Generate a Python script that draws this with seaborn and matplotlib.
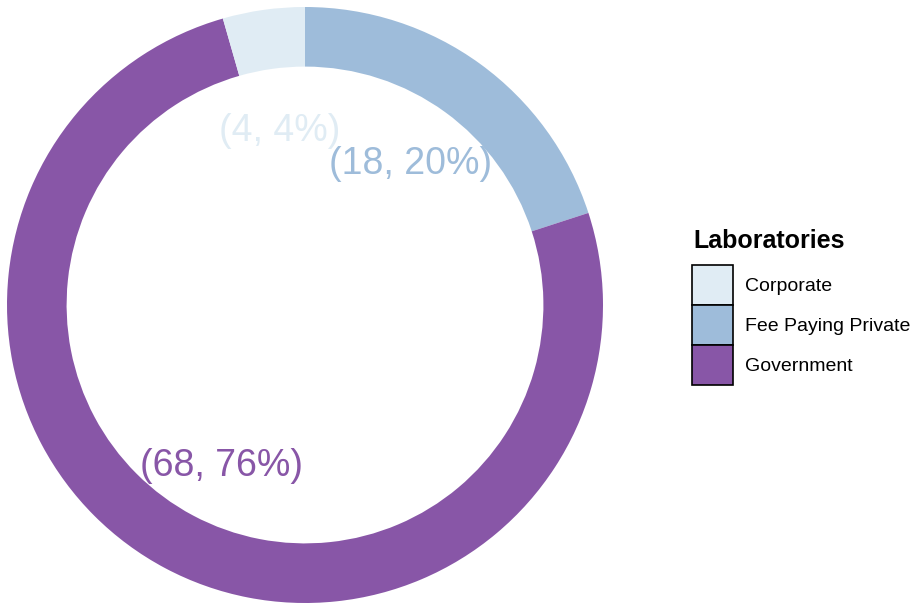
import numpy as np
import matplotlib
matplotlib.use("Agg")
import matplotlib.pyplot as plt
from matplotlib.patches import Patch
import seaborn as sns

categories = ["Corporate", "Fee Paying Private", "Government"]
counts = [4, 18, 68]
colors = ["#E0ECF4", "#9EBCDA", "#8856A7"]
legend_title = "Laboratories"

sns.set_style("white")
plt.rcParams['font.family'] = ['Liberation Sans', 'DejaVu Sans']

fig = plt.figure(figsize=(9.22, 6.08), dpi=100)
ax = fig.add_axes([7/922, 5/608, 596/922, 596/608])

order = [1, 2, 0]
vals = [counts[i] for i in order]
cols = [colors[i] for i in order]
total = sum(counts)

wedges, _ = ax.pie(vals, colors=cols, startangle=90, counterclock=False,
                   radius=1.0, wedgeprops=dict(width=0.2, linewidth=0))
ax.set_xlim(-1, 1)
ax.set_ylim(-1, 1)
ax.set_aspect('equal')
ax.axis('off')

fs = 27
for w, i in zip(wedges, order):
    mid = np.deg2rad((w.theta1 + w.theta2) / 2)
    r = 0.6
    pct = round(100 * counts[i] / total)
    ax.annotate(f"({counts[i]}, {pct}%)", xy=(r * np.cos(mid), r * np.sin(mid)),
                xytext=(0, -0.358 * fs), textcoords='offset points',
                ha='center', va='baseline', fontsize=fs, color=colors[i])

handles = [Patch(facecolor=c, edgecolor='black', linewidth=1.2) for c in colors]
leg = fig.legend(handles, categories, loc='upper left',
                 bbox_to_anchor=(692/922, 1 - 265/608), bbox_transform=fig.transFigure,
                 frameon=False, borderpad=0, fontsize=14,
                 handlelength=2.1, handleheight=2.79, labelspacing=0,
                 handletextpad=0.6, borderaxespad=0)
for t in leg.get_texts():
    t.set_color('black')
fig.text(693/922, 1 - 229/608, legend_title, ha='left', va='top',
         fontsize=18, fontweight='bold', color='black')

fig.savefig("out.png", dpi=100)
